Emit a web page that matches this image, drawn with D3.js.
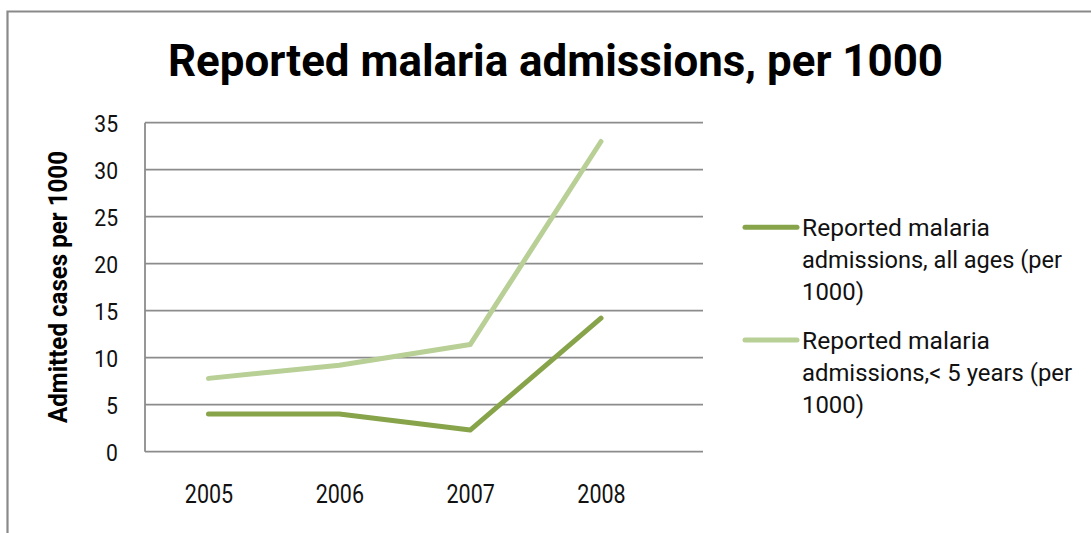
<!DOCTYPE html>
<html><head><meta charset="utf-8">
<script src="https://cdn.jsdelivr.net/npm/d3@7"></script>
<style>
html,body{margin:0;padding:0;background:#fff;}
svg{display:block;}
text{font-family:Roboto,"Open Sans",sans-serif;}
</style></head>
<body>
<svg id="chart" width="1091" height="533"></svg>
<script>
const years = ["2005","2006","2007","2008"];
const allAges = [4.0, 4.0, 2.3, 14.2];
const underFive = [7.8, 9.2, 11.4, 33.0];
const yTicks = [0,5,10,15,20,25,30,35];
const legendLines = [["Reported malaria","admissions, all ages (per","1000)"],["Reported malaria","admissions,< 5 years (per","1000)"]];
const colors = ["#87A44B","#B8CF96"];
const titleText = "Reported malaria admissions, per 1000";
const yTitle = "Admitted cases per 1000";

const svg = d3.select("#chart");
function condense(sel, f){
  sel.each(function(){
    const w = this.getComputedTextLength();
    d3.select(this).attr("textLength", w*f).attr("lengthAdjust","spacingAndGlyphs");
  });
}
svg.append("path").attr("d","M7.5,540 V11.5 H1100").attr("fill","none").attr("stroke","#8a8a8a").attr("stroke-width",2.2);

const plotL=145, plotR=703, plotT=122.7, plotB=451.7;
const x = d3.scalePoint().domain(years).range([208.5,601]);
const y = d3.scaleLinear().domain([0,35]).range([plotB,plotT]);

svg.append("g").selectAll("line").data(yTicks.filter(d=>d>0)).join("line")
  .attr("x1",plotL).attr("x2",plotR).attr("y1",d=>y(d)).attr("y2",d=>y(d))
  .attr("stroke","#8c8c8c").attr("stroke-width",1.8);
svg.append("line").attr("x1",plotL).attr("x2",plotL).attr("y1",plotT).attr("y2",plotB).attr("stroke","#8c8c8c").attr("stroke-width",1.8);
svg.append("line").attr("x1",plotL).attr("x2",plotR).attr("y1",plotB).attr("y2",plotB).attr("stroke","#8c8c8c").attr("stroke-width",1.8);

const yAxis = d3.axisLeft(y).tickValues(yTicks).tickSize(0).tickPadding(0);
const gy = svg.append("g").attr("transform","translate(118,0)").call(yAxis);
gy.select(".domain").remove();
gy.selectAll("text").attr("font-size",24).attr("fill","#111").attr("font-family","Roboto,sans-serif").attr("dy","0.36em");
condense(gy.selectAll("text"),0.88);

const xAxis = d3.axisBottom(x).tickSize(0).tickPadding(0);
const gx = svg.append("g").attr("transform","translate(0,503)").call(xAxis);
gx.select(".domain").remove();
gx.selectAll("text").attr("font-size",25).attr("fill","#111").attr("font-family","Roboto,sans-serif").attr("dy","0");
condense(gx.selectAll("text"),0.86);

const line = d3.line().x((d,i)=>x(years[i])).y(d=>y(d));
[allAges, underFive].forEach((s,k)=>{
  svg.append("path").datum(s).attr("d",line).attr("fill","none")
    .attr("stroke",colors[k]).attr("stroke-width",5).attr("stroke-linecap","round").attr("stroke-linejoin","round");
});

const t = svg.append("text").attr("x",555.5).attr("y",75.5).attr("text-anchor","middle")
  .attr("font-weight","bold").attr("font-size",45).attr("fill","#000").text(titleText);
t.attr("textLength",775).attr("lengthAdjust","spacingAndGlyphs");

const yt = svg.append("text").attr("transform","translate(66.5,287) rotate(-90)").attr("text-anchor","middle")
  .attr("font-weight","bold").attr("font-size",26).attr("fill","#000").text(yTitle);
yt.attr("textLength",272).attr("lengthAdjust","spacingAndGlyphs");

// legend (per-line rendered widths, to mimic the narrow original font)
const legY = [227.3, 340];
const legW = [[188,260,62],[188,270,62]];
legendLines.forEach((lines,k)=>{
  const g = svg.append("g");
  g.append("line").attr("x1",745).attr("x2",797).attr("y1",legY[k]).attr("y2",legY[k])
    .attr("stroke",colors[k]).attr("stroke-width",5).attr("stroke-linecap","round");
  g.selectAll("text").data(lines).join("text")
    .attr("x",802).attr("y",(d,j)=>legY[k]+8.5+j*32.3).attr("font-size",24).attr("fill","#111")
    .attr("textLength",(d,j)=>legW[k][j]).attr("lengthAdjust","spacingAndGlyphs").text(d=>d);
});
</script>
</body></html>
